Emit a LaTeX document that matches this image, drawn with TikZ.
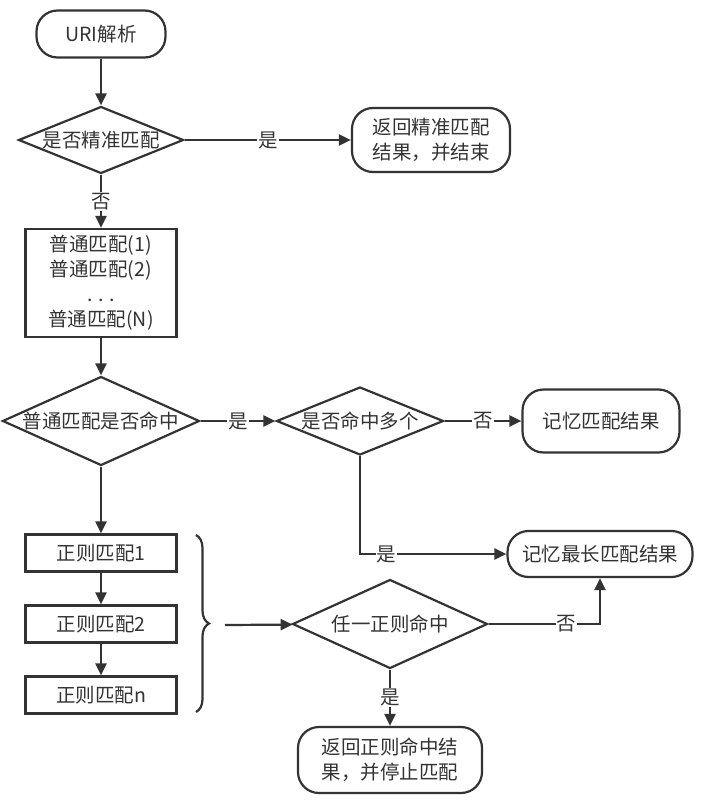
\documentclass[tikz,border=0pt]{standalone}
\usepackage{fontspec}
\setmainfont{Noto Sans CJK SC}
\usepackage{tikz}
\usetikzlibrary{arrows.meta}
\usetikzlibrary{shapes.geometric}
\usetikzlibrary{decorations.pathreplacing}

\definecolor{ink}{HTML}{333333}

\begin{document}
\begin{tikzpicture}[->,>={Triangle[length=12pt,width=11pt]},x=1pt,y=-1pt,
	line width=2.2pt,draw=ink,text=ink,font=\fontsize{19.5}{25}\selectfont,
	term node/.style={rectangle, rounded corners=21pt, draw, align=center, inner sep=2pt},
	proc node/.style={rectangle, draw, align=center, minimum width=151pt, inner sep=2pt},
	dec node/.style={diamond, draw, align=center, inner sep=0pt},
	lbl/.style={fill=white, inner sep=1pt, text=ink}]
	
	\useasboundingbox (0,0) rectangle (703,803);
	
	\node[term node, minimum width=129pt, minimum height=47pt] (uri) at (101,34) {URI解析};
	\node[dec node, aspect=2.46, minimum width=165pt, minimum height=67pt] (exact) at (101,140) {是否精准匹配};
	\node[term node, minimum width=158pt, minimum height=64pt] (retexact) at (431,140) {返回精准匹配\\结果，并结束};
	\node[proc node, minimum height=108pt] (normal) at (101,283) {普通匹配(1)\\普通匹配(2)\\. . .\\普通匹配(N)};
	
	\node[dec node, aspect=2.21, minimum width=197pt, minimum height=89pt] (hit) at (101,421) {普通匹配是否命中};
	\node[dec node, aspect=2.46, minimum width=167pt, minimum height=68pt] (multi) at (360,421) {是否命中多个};
	\node[term node, minimum width=157pt, minimum height=63pt] (mem) at (601,421) {记忆匹配结果};
	\node[term node, minimum width=185pt, minimum height=46pt] (longest) at (600,554) {记忆最长匹配结果};
	
	\node[proc node, minimum height=37pt] (re1) at (101,553) {正则匹配1};
	\node[proc node, minimum height=37pt] (re2) at (101,624) {正则匹配2};
	\node[proc node, minimum height=37pt] (ren) at (101,695) {正则匹配n};
	
	\node[dec node, aspect=2.19, minimum width=195pt, minimum height=89pt] (any) at (390,624) {任一正则命中};
	\node[term node, minimum width=184pt, minimum height=66pt] (retre) at (390,760) {返回正则命中结\\果，并停止匹配};
	
	\coordinate (bracetip) at (225,625);
	
	\draw (uri) -- (exact);
	\draw (exact) -- node[lbl] {是} (retexact);
	\draw (exact) -- node[lbl] {否} (normal);
	\draw (normal) -- (hit);
	\draw (hit) -- node[lbl] {是} (multi);
	\draw (multi) -- node[lbl] {否} (mem);
	\draw (multi) |- node[lbl, pos=0.59] {是} (longest);
	\draw (hit) -- (re1);
	\draw (re1) -- (re2);
	\draw (re2) -- (ren);
	
	% brace round the regex boxes
	\draw[-, decorate, decoration={brace, amplitude=13pt, aspect=0.5}] (196,535) -- (196,712);
	\draw (bracetip) -- (any);
	\draw (any) -| node[lbl, pos=0.35] {否} (longest);
	\draw (any) -- node[lbl] {是} (retre);
\end{tikzpicture}
\end{document}
